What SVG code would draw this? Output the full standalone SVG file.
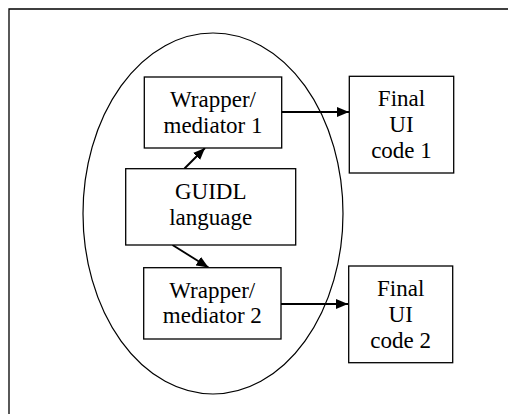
<svg xmlns="http://www.w3.org/2000/svg" width="508" height="414" viewBox="0 0 508 414">
<defs>
<style>
.box{fill:#fff;stroke:#000;stroke-width:1.3}
.t{font-size:23px;fill:#000;text-anchor:middle}
.c{stroke:#000;stroke-width:2;fill:none}
</style>
<marker id="ah" markerWidth="12" markerHeight="10" refX="12" refY="5" orient="auto" markerUnits="userSpaceOnUse">
<path d="M0,0 L12,5 L0,10 Z" fill="#000"/>
</marker>
</defs>
<rect width="508" height="414" fill="#fff"/>
<g id="frame"><path d="M9,414 L9,9 L508,9" fill="none" stroke="#000" stroke-width="1.3"/></g>
<g id="ellipse"><ellipse cx="213" cy="213.5" rx="130" ry="180.5" fill="none" stroke="#000" stroke-width="1.2"/></g>
<g id="connectors">
<line class="c" x1="282" y1="112" x2="349" y2="112" marker-end="url(#ah)"/>
<line class="c" x1="281" y1="304" x2="348" y2="304" marker-end="url(#ah)"/>
<line class="c" x1="184.5" y1="168.5" x2="205" y2="148" marker-end="url(#ah)"/>
<line class="c" x1="172.5" y1="245" x2="208.5" y2="267.5" marker-end="url(#ah)"/>
</g>
<g font-family="'Liberation Serif', 'Times New Roman', 'DejaVu Serif', serif">
<g id="wrapper1">
<rect class="box" x="144.3" y="77" width="137.4" height="71"/>
<text class="t" x="213" y="107">Wrapper/</text>
<text class="t" x="213" y="133">mediator 1</text>
</g>
<g id="guidl">
<rect class="box" x="125.7" y="168.7" width="170" height="76.3"/>
<text class="t" x="210.7" y="199">GUIDL</text>
<text class="t" x="210.7" y="224.5">language</text>
</g>
<g id="wrapper2">
<rect class="box" x="143.7" y="267.7" width="137.3" height="71.3"/>
<text class="t" x="212.3" y="297.7">Wrapper/</text>
<text class="t" x="212.3" y="323">mediator 2</text>
</g>
<g id="final1">
<rect class="box" x="349.3" y="76.3" width="104.4" height="96.7"/>
<text class="t" x="401.5" y="106">Final</text>
<text class="t" x="401.5" y="132.3">UI</text>
<text class="t" x="401.5" y="158.3">code 1</text>
</g>
<g id="final2">
<rect class="box" x="348.7" y="266" width="104" height="96.7"/>
<text class="t" x="400.7" y="296">Final</text>
<text class="t" x="400.7" y="322.3">UI</text>
<text class="t" x="400.7" y="348.3">code 2</text>
</g>
</g>
</svg>
